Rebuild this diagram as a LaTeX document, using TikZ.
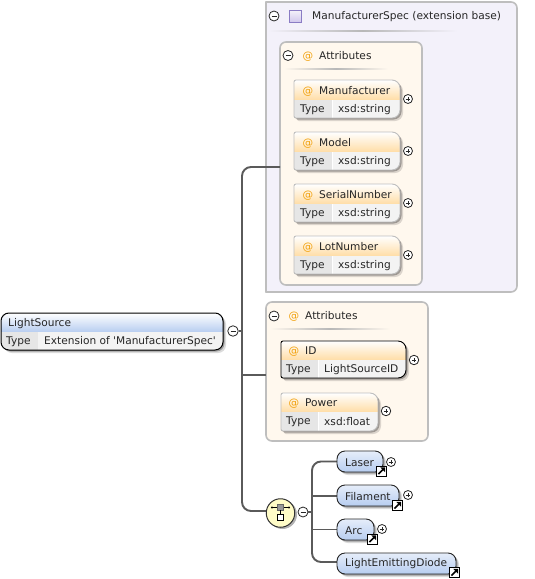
\documentclass[tikz,border=0pt]{standalone}
\usepackage{fontspec}
\setmainfont{DejaVu Sans}
\usetikzlibrary{fit}
\definecolor{lav}{HTML}{F3F1FA}
\definecolor{cream}{HTML}{FFF8EE}
\definecolor{edgegray}{HTML}{BEBEBE}
\definecolor{conncol}{HTML}{5A5A5A}
\definecolor{atgold}{HTML}{F2A20F}
\definecolor{attrhead}{HTML}{FFDDA6}
\definecolor{elemhead}{HTML}{B7CDF0}
\definecolor{typecell}{HTML}{E6E6E6}
\definecolor{valcell}{HTML}{F3F3F3}
\definecolor{specedge}{HTML}{8A7CC4}
\definecolor{specfill}{HTML}{CFC6EC}
\tikzset{
  x=1pt,y=-1pt,
  txt/.style={font=\fontsize{10.6}{12}\selectfont,inner sep=0pt,anchor=west,text=black!85,yshift=-.8pt},
  atsign/.style={txt,text=atgold,font=\fontsize{10.6}{12}\selectfont},
  conn/.style={draw=conncol,line width=1.9pt,rounded corners=9pt},
  thin conn/.style={draw=conncol,line width=1.3pt},
  panel/.style={line width=1.6pt,draw=edgegray},
  hull/.style={inner sep=0pt,outer sep=0pt},
  ctl/.style={circle,draw=black!85,fill=white,line width=.8pt,minimum size=#1,inner sep=0pt},
  minusc/.style={ctl=#1,path picture={\draw[line width=.8pt,black!85]
     ([xshift=-2.5pt]path picture bounding box.center) -- ([xshift=2.5pt]path picture bounding box.center);}},
  plusc/.style={ctl=#1,path picture={\draw[line width=.7pt,black!85]
     ([xshift=-2.3pt]path picture bounding box.center) -- ([xshift=2.3pt]path picture bounding box.center)
     ([yshift=-2.3pt]path picture bounding box.center) -- ([yshift=2.3pt]path picture bounding box.center);}},
  jump/.style={draw=black,fill=white,line width=.9pt,minimum size=10pt,inner sep=0pt,
     path picture={\fill[black] ([shift={(3.6pt,3.6pt)}]path picture bounding box.center) -- ([shift={(3.6pt,-1.2pt)}]path picture bounding box.center) -- ([shift={(-1.2pt,3.6pt)}]path picture bounding box.center) -- cycle;
     \draw[line width=1.5pt,black] ([shift={(-3pt,-3pt)}]path picture bounding box.center) -- ([shift={(2pt,2pt)}]path picture bounding box.center);}},
}
% outline: options, x1,y1,x2,y2, left radius, right radius
\newcommand\outl[7]{\path[#1,rounded corners=#6pt] (#2,#3) [rounded corners=#7pt] -- (#4,#3) -- (#4,#5) [rounded corners=#6pt] -- (#2,#5) -- cycle;}
\newcommand\softshadow[6]{%
  \outl{fill=black,opacity=.14}{#1+3}{#2+3}{#3+3}{#4+3}{#5}{#6}
  \outl{fill=black,opacity=.28}{#1+1.5}{#2+1.5}{#3+1.5}{#4+1.5}{#5}{#6}}
% name, x1,y1,x2,y2, split y, divider x, head colour, border colour
\newcommand\typedbox[9]{%
  \softshadow{#2}{#3}{#4}{#5}{2}{8}
  \begin{scope}
    \outl{clip}{#2}{#3}{#4}{#5}{2}{8}
    \shade[top color=white,bottom color=#8] (#2,#3) rectangle (#4,#6);
    \fill[typecell] (#2,#6) rectangle (#7,#5);
    \fill[valcell] (#7,#6) rectangle (#4,#5);
    \draw[white,line width=1pt] (#7,#6) -- (#7,#5);
  \end{scope}
  \outl{draw=#9,line width=.9pt}{#2}{#3}{#4}{#5}{2}{8}
  \coordinate (#1-a) at (#2,#3); \coordinate (#1-b) at (#4,#5);
  \node[hull,fit=(#1-a)(#1-b)] (#1) {};}
% name, x1,y1,x2,y2
\newcommand\groupbox[5]{%
  \softshadow{#2}{#3}{#4}{#5}{8}{8}
  \outl{shade,draw=black!85,line width=.9pt,top color=elemhead!35,bottom color=elemhead}{#2}{#3}{#4}{#5}{8}{8}
  \coordinate (#1-a) at (#2,#3); \coordinate (#1-b) at (#4,#5);
  \node[hull,fit=(#1-a)(#1-b)] (#1) {};}
\newcommand\sepline[4]{\shade[left color=#4,right color=#4,middle color=black!28] (#1,#3-.8) rectangle (#2,#3+.8);}
\begin{document}
\begin{tikzpicture}
\useasboundingbox (0,0) rectangle (535,579);
\fill[white] (0,0) rectangle (535,579);

% panels
\outl{panel,fill=lav}{266}{2}{517}{292}{0.01}{6}
\coordinate (specA) at (266,2); \coordinate (specB) at (517,292);
\node[hull,fit=(specA)(specB)] (spec) {};
\draw[panel,fill=cream,rounded corners=6pt] (280,42) rectangle (422,285);
\coordinate (attA) at (280,42); \coordinate (attB) at (422,285);
\node[hull,fit=(attA)(attB)] (attrsA) {};
\draw[panel,fill=cream,rounded corners=6pt] (266,302) rectangle (428,441);
\coordinate (atbA) at (266,302); \coordinate (atbB) at (428,441);
\node[hull,fit=(atbA)(atbB)] (attrsB) {};

% panel headers
\node[minusc=10pt] (specToggle) at (274,16) {};
\shade[draw=specedge,line width=1pt,top color=lav,bottom color=specfill] (289.5,10.5) rectangle (301.5,22.5);
\node[txt] (specTitle) at (312,16) {ManufacturerSpec (extension base)};
\sepline{268}{457}{31}{lav}
\node[minusc=10pt] (attAToggle) at (288,55.5) {};
\node[atsign] (attAAt) at (302.5,55.5) {@};
\node[txt] (attATitle) at (319,55) {Attributes};
\sepline{284}{388}{69}{cream}
\node[minusc=10pt] (attBToggle) at (274,316) {};
\node[atsign] (attBAt) at (288.5,315.5) {@};
\node[txt] (attBTitle) at (305,315) {Attributes};
\sepline{270}{390}{329}{cream}

% connectors
\coordinate (trunk) at (242,331);
\coordinate (toSpec) at (280,167);
\coordinate (toAttrs) at (266,375);
\coordinate (toSeq) at (267,511);
\node[minusc=10.5pt] (lsToggle) at (233,331) {};
\draw[thin conn] (lsToggle.east) -- (trunk);
\draw[conn] (toSpec) -- (trunk |- toSpec) -- (trunk |- toSeq) -- (toSeq);
\draw[conn] (trunk |- toAttrs) -- (toAttrs);

% sequence connectors
\node[minusc=10pt] (seqToggle) at (303,512) {};
\coordinate (seqTrunk) at (312,512);
\draw[thin conn] (seqToggle.east) -- (seqTrunk);

% LightSource
\softshadow{1}{313}{223}{350}{8}{8}
\begin{scope}
  \outl{clip}{1}{313}{223}{350}{8}{8}
  \shade[top color=white,bottom color=elemhead] (1,313) rectangle (223,332);
  \fill[typecell] (1,332) rectangle (38,350);
  \fill[valcell] (38,332) rectangle (223,350);
\end{scope}
\outl{draw=black,line width=1pt}{1}{313}{223}{350}{8}{8}
\coordinate (lsA) at (1,313); \coordinate (lsB) at (223,350);
\node[hull,fit=(lsA)(lsB)] (ls) {};
\node[txt] (lsName) at (8,322.5) {LightSource};
\node[txt] (lsType) at (6,341) {Type};
\node[txt] (lsVal) at (44,341) {Extension of \textquotesingle ManufacturerSpec\textquotesingle};

% attributes of ManufacturerSpec
\typedbox{mf}{294}{80}{400}{118}{100}{332}{attrhead}{edgegray}
\node[atsign] (mfAt) at (302.5,90.5) {@}; \node[txt] (mfName) at (319,90) {Manufacturer};
\node[txt] (mfType) at (300,109) {Type}; \node[txt] (mfVal) at (338,109) {xsd:string};
\node[plusc=9pt] (mfPlus) at (408,99) {};

\typedbox{mo}{294}{132}{400}{170}{152}{332}{attrhead}{edgegray}
\node[atsign] (moAt) at (302.5,142.5) {@}; \node[txt] (moName) at (319,142) {Model};
\node[txt] (moType) at (300,161) {Type}; \node[txt] (moVal) at (338,161) {xsd:string};
\node[plusc=9pt] (moPlus) at (408,151) {};

\typedbox{sn}{294}{184}{400}{222}{204}{332}{attrhead}{edgegray}
\node[atsign] (snAt) at (302.5,194.5) {@}; \node[txt] (snName) at (319,194) {SerialNumber};
\node[txt] (snType) at (300,213) {Type}; \node[txt] (snVal) at (338,213) {xsd:string};
\node[plusc=9pt] (snPlus) at (408,203) {};

\typedbox{ln}{294}{236}{400}{274}{256}{332}{attrhead}{edgegray}
\node[atsign] (lnAt) at (302.5,246.5) {@}; \node[txt] (lnName) at (319,246) {LotNumber};
\node[txt] (lnType) at (300,265) {Type}; \node[txt] (lnVal) at (338,265) {xsd:string};
\node[plusc=9pt] (lnPlus) at (408,255) {};

% own attributes
\typedbox{id}{281}{341}{406}{378}{360}{318}{attrhead}{black}
\node[atsign] (idAt) at (288.5,350.5) {@}; \node[txt] (idName) at (305,350) {ID};
\node[txt] (idType) at (286,369) {Type}; \node[txt] (idVal) at (324,369) {LightSourceID};
\node[plusc=9.5pt] (idPlus) at (414,360) {};

\typedbox{pw}{281}{393}{378}{431}{412}{318}{attrhead}{edgegray}
\node[atsign] (pwAt) at (288.5,402.5) {@}; \node[txt] (pwName) at (305,402) {Power};
\node[txt] (pwType) at (286,421) {Type}; \node[txt] (pwVal) at (324,421) {xsd:float};
\node[plusc=9.5pt] (pwPlus) at (386,411) {};

% sequence compositor
\fill[black,opacity=.3] (282.5,514.5) circle[radius=14.5pt];
\node[circle,draw=black!80,fill=yellow!22,line width=1pt,minimum size=28.5pt,inner sep=0pt] (seq) at (280.5,513) {};
\draw[black,line width=.8pt] (272,507.5) -- (289,507.5);
\fill[black] (272,507.5) circle[radius=1.1pt] (289,507.5) circle[radius=1.1pt];
\draw[black!60,fill=black!40,line width=.6pt] (277.5,504) rectangle (283.5,510);
\draw[black,line width=.6pt] (280.5,510) -- (280.5,514);
\draw[black,fill=white,line width=.6pt] (277.5,514) rectangle (283.5,520);

% choice elements
\coordinate (lzEnd) at (337,461.5);
\coordinate (flEnd) at (337,496);
\coordinate (arEnd) at (337,529.5);
\coordinate (ldEnd) at (337,562);
\draw[conn] (lzEnd) -- (seqTrunk |- lzEnd) -- (seqTrunk |- ldEnd) -- (ldEnd);
\draw[conn] (seqTrunk |- flEnd) -- (flEnd);
\draw[conn] (seqTrunk |- arEnd) -- (arEnd);

\groupbox{lz}{337}{451}{383}{472}
\node[txt] (lzName) at (345,461.5) {Laser};
\node[plusc=9pt] (lzPlus) at (391,462) {};
\node[jump] (lzJump) at (381.5,471) {};

\groupbox{fl}{337}{485}{399}{506}
\node[txt] (flName) at (345,495.5) {Filament};
\node[plusc=9pt] (flPlus) at (408,495) {};
\node[jump] (flJump) at (397.5,505.5) {};

\groupbox{ar}{337}{519}{374}{540}
\node[txt] (arName) at (345,529.5) {Arc};
\node[plusc=9pt] (arPlus) at (382,529) {};
\node[jump] (arJump) at (372.5,539) {};

\groupbox{ld}{337}{553}{456}{574}
\node[txt] (ldName) at (345,563) {LightEmittingDiode};
\node[jump] (ldJump) at (454.5,572.5) {};
\end{tikzpicture}
\end{document}
